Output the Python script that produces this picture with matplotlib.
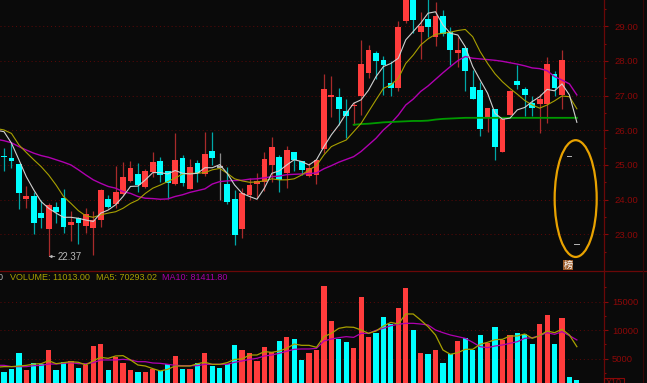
import matplotlib
matplotlib.use('Agg')
import matplotlib.pyplot as plt
from matplotlib.lines import Line2D
from matplotlib.patches import Ellipse, Rectangle
import numpy as np

plt.rcParams['font.family'] = ['Liberation Sans', 'Noto Sans CJK SC', 'DejaVu Sans']

# Candles, oldest first
opens = [25.25, 25.19, 25.04, 24.02, 24.11, 23.60, 23.15, 23.78, 24.05, 23.27,
         23.46, 23.24, 23.18, 23.41, 24.02, 23.88, 24.17, 24.55, 24.75, 24.36,
         24.79, 25.11, 24.82, 24.45, 25.19, 24.31, 25.06, 24.74, 25.39, 24.92,
         24.46, 24.02, 23.16, 24.12, 24.44, 24.52, 25.01, 25.24, 24.76, 25.37,
         25.10, 24.67, 24.72, 25.46, 26.97, 26.95, 26.56, 26.69, 27.00, 27.66,
         28.24, 28.02, 27.36, 27.21, 29.16, 30.00, 28.85, 29.20, 28.70, 29.30,
         28.84, 28.24, 28.38, 27.24, 27.16, 26.35, 26.61, 25.38, 26.45, 27.41,
         27.19, 26.80, 26.76, 26.76, 27.62, 27.02, 25.22, 22.69]
closes = [25.22, 25.11, 24.20, 24.11, 23.33, 23.48, 23.85, 23.63, 23.21, 23.34,
          23.33, 23.59, 23.41, 24.27, 23.78, 24.22, 24.66, 24.91, 24.41, 24.82,
          25.08, 24.72, 24.47, 25.14, 24.48, 24.94, 24.76, 25.32, 25.20, 24.92,
          23.93, 22.98, 24.20, 24.42, 24.53, 25.17, 25.52, 24.56, 25.43, 25.14,
          24.86, 24.90, 25.13, 27.20, 26.99, 26.62, 26.41, 26.71, 27.91, 28.33,
          28.00, 27.87, 27.21, 28.97, 30.00, 29.18, 29.01, 28.98, 29.30, 28.78,
          28.32, 28.33, 27.72, 26.91, 26.05, 26.65, 25.51, 26.32, 27.13, 27.32,
          27.03, 26.63, 26.89, 27.91, 27.21, 28.02, 25.22, 22.69]
highs = [25.48, 25.63, 25.04, 24.38, 24.23, 23.99, 23.89, 23.94, 24.30, 23.67,
         23.51, 23.75, 23.67, 24.30, 24.13, 24.97, 25.08, 25.11, 25.05, 24.88,
         25.37, 25.24, 24.84, 25.91, 25.29, 25.17, 25.14, 25.96, 25.96, 25.34,
         24.95, 24.28, 24.33, 24.63, 24.76, 25.37, 25.81, 25.29, 25.55, 25.37,
         25.10, 25.07, 25.17, 27.62, 27.58, 27.21, 26.89, 26.83, 28.61, 28.46,
         28.30, 28.13, 28.00, 29.16, 30.20, 30.20, 29.40, 29.90, 29.71, 29.47,
         28.97, 28.70, 28.40, 27.74, 27.40, 26.65, 26.61, 26.35, 27.16, 27.88,
         27.24, 26.99, 27.05, 28.11, 27.72, 28.32, 25.22, 22.69]
lows = [24.83, 24.90, 23.72, 23.76, 23.01, 23.18, 22.36, 23.32, 23.05, 22.82,
        22.72, 23.03, 22.40, 23.22, 23.75, 23.75, 24.13, 24.52, 24.23, 24.33,
        24.64, 24.51, 24.01, 24.42, 24.38, 24.31, 24.51, 24.68, 25.01, 23.99,
        23.87, 22.69, 22.90, 23.99, 24.04, 24.26, 24.52, 24.23, 24.34, 24.84,
        24.71, 24.64, 24.45, 25.34, 26.39, 26.15, 25.77, 26.15, 26.44, 27.50,
        27.48, 27.02, 27.00, 27.12, 29.10, 28.80, 28.05, 28.68, 28.44, 28.72,
        27.87, 27.84, 27.14, 26.89, 25.84, 25.96, 25.14, 25.38, 26.43, 27.19,
        26.41, 26.41, 25.93, 26.22, 26.99, 26.61, 25.22, 22.69]

# Price moving averages, starting one bar left of the first candle
ma_white = [26.00, 25.96, 25.63, 25.15, 24.66, 24.28, 23.94, 23.75, 23.61, 23.49, 23.49,
            23.46, 23.41, 23.37, 23.61, 23.70, 23.85, 24.09, 24.38, 24.39, 24.57,
            24.78, 24.78, 24.74, 24.84, 24.76, 24.74, 24.76, 24.92, 24.92, 25.01,
            24.76, 24.42, 24.18, 24.09, 24.01, 24.33, 24.76, 24.83, 25.00, 25.15,
            25.10, 25.00, 25.15, 25.53, 25.87, 26.15, 26.49, 26.78, 26.88, 27.16,
            27.55, 27.84, 27.93, 28.08, 28.61, 28.85, 29.09, 29.38, 29.42, 29.04,
            28.80, 28.75, 28.41, 27.84, 27.45, 27.07, 26.49, 26.32, 26.35, 26.59,
            26.66, 26.83, 26.97, 27.18, 27.14, 27.34, 27.02, 26.23]
ma_yellow = [26.05, 26.01, 25.91, 25.58, 25.36, 25.15, 24.95, 24.71, 24.42, 24.09, 23.89,
             23.68, 23.53, 23.49, 23.56, 23.61, 23.65, 23.75, 23.89, 23.99, 24.18,
             24.33, 24.42, 24.52, 24.62, 24.74, 24.76, 24.76, 24.78, 24.86, 24.90,
             24.76, 24.60, 24.54, 24.50, 24.51, 24.54, 24.60, 24.57, 24.57, 24.60,
             24.71, 24.86, 24.98, 25.29, 25.53, 25.63, 25.72, 25.96, 26.20, 26.54,
             26.88, 27.21, 27.31, 27.50, 27.93, 28.17, 28.46, 28.64, 28.77, 28.80,
             28.83, 28.88, 28.91, 28.70, 28.27, 27.93, 27.63, 27.40, 27.21, 27.04,
             26.86, 26.73, 26.64, 26.73, 26.85, 26.99, 26.97, 26.62]
ma_magenta = [25.74, 25.70, 25.64, 25.53, 25.43, 25.34, 25.27, 25.22, 25.15, 25.08, 25.00,
              24.86, 24.71, 24.57, 24.47, 24.38, 24.33, 24.23, 24.18, 24.09, 24.04,
              24.03, 24.01, 24.02, 24.09, 24.14, 24.21, 24.26, 24.31, 24.45, 24.52,
              24.54, 24.55, 24.56, 24.59, 24.60, 24.63, 24.66, 24.68, 24.72, 24.73,
              24.74, 24.75, 24.77, 24.89, 24.98, 25.08, 25.16, 25.24, 25.39, 25.58,
              25.77, 26.01, 26.20, 26.44, 26.73, 26.90, 27.12, 27.28, 27.47, 27.66,
              27.84, 28.01, 28.13, 28.08, 28.06, 28.04, 28.02, 27.99, 27.95, 27.91,
              27.86, 27.80, 27.78, 27.72, 27.55, 27.45, 27.34, 27.02]
# Long flat average, only from bar 47 on
green_start = 47
ma_green = [26.16, 26.18, 26.19, 26.21, 26.23, 26.24, 26.25, 26.26, 26.27, 26.27,
            26.28, 26.31, 26.33, 26.34, 26.35, 26.36, 26.36, 26.36, 26.36, 26.36,
            26.36, 26.36, 26.36, 26.36, 26.36, 26.36, 26.36, 26.36, 26.36, 26.36, 26.36]

volume = [2720, 3190, 6050, 3010, 4300, 4120, 6520, 3010, 4420, 4650,
          3360, 3890, 7220, 7520, 3070, 5350, 4300, 2950, 2660, 2600,
          3250, 2840, 4010, 5470, 3250, 3250, 4180, 6050, 3660, 3420,
          4120, 7400, 6580, 6050, 4650, 7100, 6110, 8100, 8860, 8450,
          4820, 6050, 6460, 17750, 11610, 8450, 7920, 6810, 15760, 8740,
          9560, 12370, 11020, 13830, 17460, 9970, 6050, 5760, 6460, 4300,
          5760, 8040, 8570, 6580, 9150, 7690, 10610, 8280, 9150, 9500,
          9330, 7520, 11020, 12660, 7630, 12080, 1720, 1260]
vol_ma5 = [3500, 3600, 3600, 3710, 3830, 4060, 4120, 4650, 4120, 4300, 4470,
           4360, 3890, 4650, 5230, 5060, 5470, 5530, 4770, 3890, 3710,
           3250, 2840, 3130, 3710, 3710, 3710, 4120, 4360, 4010, 4010,
           4300, 4880, 4940, 5640, 5640, 6230, 6110, 6350, 6810, 7570,
           7340, 7340, 6990, 8860, 9440, 10320, 10560, 10500, 10030, 9440,
           9850, 10730, 11370, 11080, 12840, 12840, 11780, 10610, 9150, 6520,
           5760, 6050, 6640, 6640, 7520, 7870, 8330, 8390, 8980, 8980,
           9330, 8570, 9040, 9850, 9560, 10150, 9150, 7100]
vol_ma10 = [3830, 3830, 3600, 3600, 3600, 3770, 3830, 4060, 4060, 4180, 4300,
            4120, 4120, 4300, 4770, 4770, 4770, 4880, 4770, 4470, 4470,
            4240, 4180, 4010, 3830, 3770, 3770, 3770, 4010, 4010, 4010,
            4010, 4360, 4590, 4880, 5060, 5470, 5640, 5940, 6290, 6640,
            6700, 6700, 6810, 8100, 8450, 8680, 8860, 8740, 9440, 9440,
            9970, 10320, 10790, 11020, 11200, 11200, 11080, 10910, 10030, 9560,
            9150, 8860, 8570, 7870, 7100, 6930, 7220, 7400, 7690, 7980,
            8570, 8680, 9040, 9560, 9270, 9740, 9040, 8280]

price_ticks = [23, 24, 25, 26, 27, 28, 29]
volume_ticks = [5000, 10000, 15000]

BG = '#0a0a0a'
RED = '#ff3c3c'
CYAN = '#00ffff'
DARK_RED = '#8a0808'
LINE_RED = '#6a0808'
W, H = 647, 383
SPLIT = 271  # pixel row between the panels
RIGHT = 603.5

fig = plt.figure(figsize=(W / 100, H / 100), dpi=100, facecolor=BG)
ax = fig.add_axes([0, 1 - SPLIT / H, RIGHT / W, SPLIT / H], facecolor=BG)
ax_vol = fig.add_axes([0, 0, RIGHT / W, 1 - SPLIT / H], facecolor=BG, sharex=ax)

x = np.arange(len(closes))
ma_x = np.arange(-1, len(closes))
o = np.array(opens)
c = np.array(closes)

for i in x:
    if c[i] > o[i]:
        body, wick = RED, '#a82a2a'
    elif c[i] < o[i]:
        body, wick = CYAN, '#00a8a8'
    else:
        body, wick = '#b0b0b0', '#8a8a8a'
    ax.vlines(i, lows[i], highs[i], color=wick, lw=0.9, zorder=2)
    top, bottom = max(o[i], c[i]), min(o[i], c[i])
    ax.bar(i, max(top - bottom, 0.04), 0.78, bottom=bottom, color=body, lw=0, zorder=3)

ax.plot(ma_x, ma_magenta, color='#b000b0', lw=1.0, zorder=4)
ax.plot(ma_x, ma_yellow, color='#a8a000', lw=0.8, zorder=5)
ax.plot(ma_x, ma_white, color='#d0d0d0', lw=0.8, zorder=6)
ax.plot(np.arange(green_start, green_start + len(ma_green)), ma_green,
        color='#009a00', lw=1.3, zorder=4)

ax.annotate('22.37', xy=(6, lows[6]), xytext=(7.2, lows[6] - 0.02), color='#b8b8b8',
            fontsize=7, va='center', zorder=7,
            arrowprops=dict(arrowstyle='-|>,head_width=0.12,head_length=0.25',
                            color='#b8b8b8', lw=0.6, shrinkA=0, shrinkB=0))

# Hand-drawn ring round the last two bars
ax.add_patch(Ellipse((76.84, 24.03), 5.65, 3.37, fill=False, ec='#e8a200', lw=1.6, zorder=8))

ax.set_xlim(-0.54, 80.58)
ax.set_ylim(21.94, 29.76)
ax.set_yticks(price_ticks)
ax.set_yticklabels([f'{p:.2f}' for p in price_ticks])
ax.set_yticks(np.arange(22.5, 30, 1), minor=True)

colors = [RED if cl > op else CYAN for op, cl in zip(opens, closes)]
ax_vol.bar(x, volume, 0.7, color=colors, lw=0, zorder=3)
ax_vol.plot(ma_x, vol_ma10, color='#b000b0', lw=0.9, zorder=4)
ax_vol.plot(ma_x, vol_ma5, color='#a8a000', lw=0.9, zorder=5)
ax_vol.set_ylim(730, 20380)
ax_vol.set_yticks(volume_ticks)
ax_vol.set_yticks(np.arange(2500, 20000, 5000), minor=True)

for a, pad in ((ax, 5.2), (ax_vol, 3.0)):
    for side in ('left', 'top', 'bottom'):
        a.spines[side].set_visible(False)
    a.spines['right'].set_color(LINE_RED)
    a.spines['right'].set_linewidth(0.9)
    a.yaxis.tick_right()
    a.grid(axis='y', which='major', color='#5e0808', lw=0.7, ls=(0, (1, 3)), zorder=1)
    a.tick_params(axis='y', which='major', length=3, width=0.8, color=DARK_RED,
                  labelcolor=DARK_RED, pad=pad, labelsize=6.8)
    a.tick_params(axis='y', which='minor', length=1.6, width=0.8, color=DARK_RED)
    a.tick_params(axis='x', which='both', length=0, labelbottom=False)

# Panel frame lines
fig.add_artist(Line2D([0, 1], [1 - SPLIT / H] * 2, color=LINE_RED, lw=0.9))
fig.add_artist(Line2D([642.5 / W] * 2, [0, 1], color='#3a0606', lw=0.8))

# Volume legend
legend_y = 1 - 277.7 / H
fig.text(2.5 / W, legend_y, '0', color='#b8b8b8', fontsize=6.5, ha='right', va='center')
fig.text(10 / W, legend_y, 'VOLUME: 11013.00', color='#a8a000', fontsize=6.5, va='center')
fig.text(96 / W, legend_y, 'MA5: 70293.02', color='#a8a000', fontsize=6.5, va='center')
fig.text(161.7 / W, legend_y, 'MA10: 81411.80', color='#a800a8', fontsize=6.5, va='center')

# Small tag under the ring and the clipped box in the corner
fig.add_artist(Rectangle((563 / W, 1 - 270 / H), 10.3 / W, 10 / H, color='#9a5a28', lw=0, zorder=9))
fig.text(568.2 / W, 1 - 265 / H, '榜', color='white', fontsize=6.5, ha='center', va='center',
         zorder=10)
fig.add_artist(Rectangle((603.5 / W, -4 / H), 20 / W, 9.5 / H, fill=False, ec=DARK_RED, lw=0.8))
fig.text(613.5 / W, 1 - 385 / H, 'X10', color=DARK_RED, fontsize=6.5, ha='center', va='baseline')

fig.savefig('out.png', dpi=100, facecolor=BG)
